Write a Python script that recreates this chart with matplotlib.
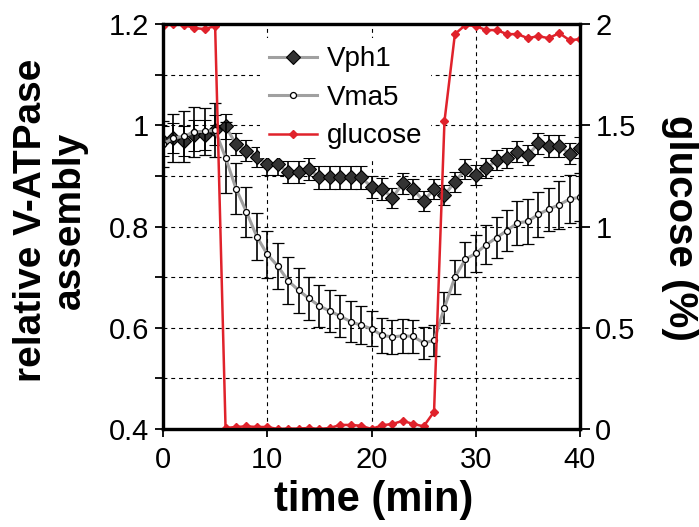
import numpy as np
import matplotlib.pyplot as plt

plt.rcParams['font.family'] = ['Liberation Sans', 'DejaVu Sans']

# tiempo (min)
time_min = np.arange(0, 41)

# Vph1
vph1 = [0.969, 0.975, 0.969, 0.980, 0.981, 0.991, 0.998, 0.963, 0.950, 0.938,
        0.923, 0.923, 0.907, 0.908, 0.913, 0.897, 0.897, 0.897, 0.897, 0.897,
        0.878, 0.874, 0.857, 0.885, 0.874, 0.850, 0.874, 0.862, 0.888, 0.913,
        0.901, 0.915, 0.931, 0.936, 0.948, 0.941, 0.964, 0.959, 0.959, 0.944,
        0.956]
vph1_err = [0.03, 0.03, 0.03, 0.03, 0.03, 0.03, 0.025, 0.022, 0.02, 0.02,
            0.022, 0.022, 0.022, 0.022, 0.022, 0.022, 0.022, 0.022, 0.022, 0.022,
            0.022, 0.022, 0.02, 0.02, 0.02, 0.02, 0.02, 0.02, 0.02, 0.02,
            0.02, 0.02, 0.02, 0.02, 0.02, 0.02, 0.021, 0.021, 0.021, 0.02,
            0.02]

# Vma5
vma5 = [0.963, 0.975, 0.978, 0.987, 0.988, 0.990, 0.936, 0.875, 0.829, 0.780,
        0.745, 0.722, 0.693, 0.674, 0.658, 0.643, 0.633, 0.623, 0.612, 0.605,
        0.598, 0.585, 0.582, 0.584, 0.583, 0.570, 0.575, 0.640, 0.700, 0.735,
        0.747, 0.764, 0.778, 0.792, 0.807, 0.810, 0.824, 0.834, 0.843, 0.854,
        0.858]
vma5_err = [0.045, 0.048, 0.05, 0.05, 0.046, 0.053, 0.07, 0.05, 0.05, 0.047,
            0.046, 0.046, 0.047, 0.045, 0.043, 0.041, 0.042, 0.042, 0.04, 0.038,
            0.035, 0.034, 0.033, 0.033, 0.033, 0.031, 0.031, 0.03, 0.034, 0.035,
            0.036, 0.039, 0.04, 0.041, 0.043, 0.045, 0.044, 0.043, 0.047, 0.047,
            0.047]

# glucosa (%)
glucose = [1.99, 2.00, 1.995, 1.98, 1.975, 1.99, 0.005, 0.01, 0.013, 0.01,
           0.01, 0.0, 0.002, 0.002, 0.005, 0.0, 0.005, 0.02, 0.02, 0.016,
           0.0, 0.018, 0.025, 0.04, 0.025, 0.013, 0.085, 1.52, 1.95, 1.995,
           1.99, 1.97, 1.97, 1.95, 1.95, 1.93, 1.94, 1.93, 1.955, 1.92,
           1.925]

red = '#E0222B'
gray = '#A0A0A0'

fig = plt.figure(figsize=(6.99, 5.27), dpi=100)
ax1 = fig.add_axes([163/699, 1 - 429/527, 417/699, 405/527])
ax2 = ax1.twinx()

# Vph1 y Vma5 con barras de error
c1 = ax1.errorbar(time_min, vph1, yerr=vph1_err, fmt='D-', color=gray, lw=2.2,
                  ms=7, mfc='#333333', mec='black', mew=0.8,
                  ecolor='black', elinewidth=1.2, capsize=4.5, capthick=1.2, zorder=3)
c2 = ax1.errorbar(time_min, vma5, yerr=vma5_err, fmt='o-', color=gray, lw=2.2,
                  ms=4.3, mfc='white', mec='black', mew=0.9,
                  ecolor='black', elinewidth=1.2, capsize=4.5, capthick=1.2, zorder=4)

l3, = ax2.plot(time_min, glucose, 'D-', color=red, lw=1.8, ms=3.8, mec=red)

ax1.set_xlim(0, 40)
ax1.set_ylim(0.4, 1.2)
ax2.set_ylim(0, 2)

ax1.set_xticks([0, 10, 20, 30, 40])
ax1.set_yticks([0.4, 0.6, 0.8, 1.0, 1.2])
ax1.set_yticklabels(['0.4', '0.6', '0.8', '1', '1.2'])
ax1.set_yticks(np.arange(0.5, 1.2, 0.2), minor=True)
ax2.set_yticks([0, 0.5, 1, 1.5, 2])
ax2.set_yticklabels(['0', '0.5', '1', '1.5', '2'])

ax1.grid(True, which='both', axis='y', color='black', ls=(0, (3.5, 3.5)), lw=0.8)
ax1.grid(True, which='major', axis='x', color='black', ls=(0, (3.5, 3.5)), lw=0.8)
ax1.set_axisbelow(True)

for ax in (ax1, ax2):
    for s in ax.spines.values():
        s.set_linewidth(2.3)
ax1.tick_params(axis='both', which='both', direction='out', length=6, width=1.3,
                labelsize=21, pad=4)
ax1.tick_params(axis='x', pad=6)
ax2.tick_params(axis='y', direction='out', length=7, width=1.3, labelsize=21, pad=4)

# textos de ejes
fig.text(50/699, 1 - 220/527, 'relative V-ATPase\nassembly', rotation=90,
         ha='center', va='center', multialignment='center',
         fontsize=28, fontweight='bold', linespacing=1.1)
fig.text(680/699, 1 - 228/527, 'glucose (%)', rotation=270,
         ha='center', va='center', fontsize=29, fontweight='bold')
fig.text(374/699, 1 - 500/527, 'time (min)', ha='center', va='center',
         fontsize=30, fontweight='bold')

leg = ax2.legend([c1[0], c2[0], l3], ['Vph1', 'Vma5', 'glucose'],
                 loc='upper left', bbox_to_anchor=(0.2, 1.0), fontsize=20,
                 frameon=True, facecolor='white', edgecolor='none', framealpha=1,
                 fancybox=False, handlelength=1.75, handletextpad=0.35,
                 labelspacing=0.45, borderpad=0.3)

plt.savefig('out.png', dpi=100)
